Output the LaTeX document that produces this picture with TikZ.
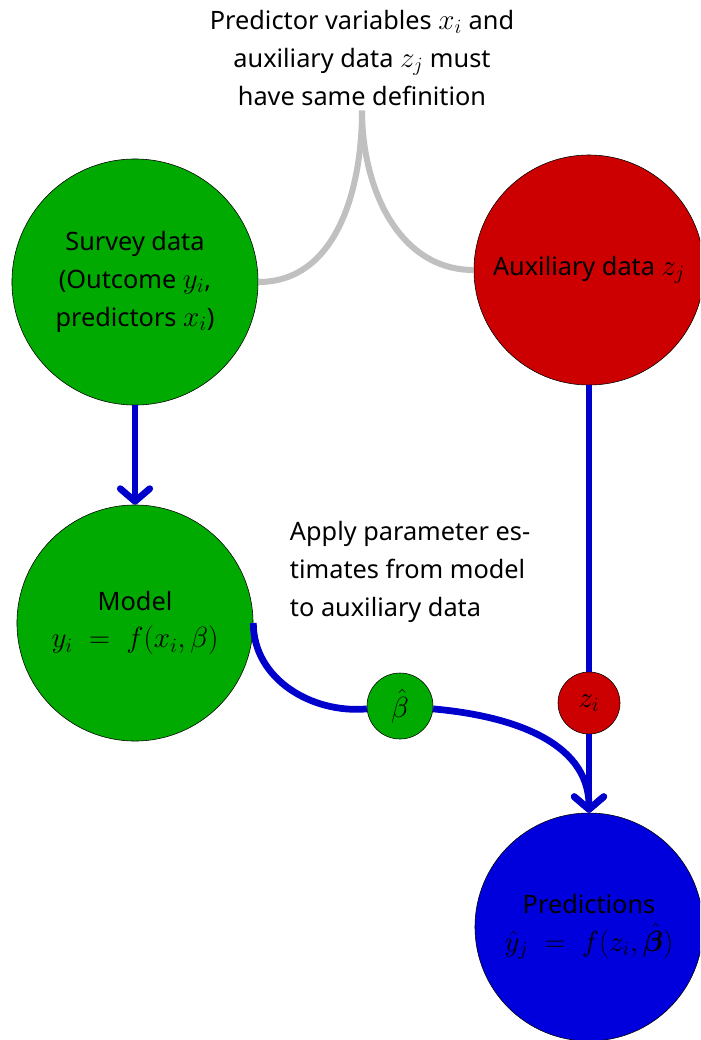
\documentclass[tikz,border=0pt]{standalone}
\usepackage{fontspec}
\setmainfont{Noto Sans}
\usepackage{bm}
\DeclareMathSizes{18}{21}{15}{12}
\usetikzlibrary{arrows.meta}
\definecolor{surveygreen}{RGB}{0,170,0}
\definecolor{auxred}{RGB}{204,0,0}
\definecolor{flowblue}{RGB}{0,0,204}
\definecolor{predblue}{RGB}{0,0,221}
\definecolor{linkgray}{RGB}{192,192,192}
\begin{document}
\begin{tikzpicture}[x=0.025cm, y=-0.025cm,
    every node/.style={font=\fontsize{18}{27}\selectfont},
    blob/.style={circle, draw=black, thin, align=center, inner sep=0pt},
    flow/.style={draw=flowblue, line width=4.8pt},
    tip/.style={-{Straight Barb[round, length=9pt, width=21pt]}},
    link/.style={draw=linkgray, line width=4.3pt}]
  \clip (0,0) rectangle (700,1040);
  % Data sources
  \node[blob, fill=surveygreen, minimum size=6.15cm] (survey) at (135,282)
    {Survey data\\(Outcome $y_i$,\\predictors $x_i$)};
  \node[blob, fill=auxred, minimum size=5.75cm] (aux) at (589,270)
    {Auxiliary data $z_j$};
  % Model and predictions
  \node[blob, fill=surveygreen, minimum size=5.9cm] (model) at (135,623)
    {Model\\$y_i \;=\; f(x_i, \beta)$};
  \node[blob, fill=predblue, minimum size=5.7cm] (pred) at (589,927)
    {Predictions\\$\hat{y}_j \;=\; f(z_i, \hat{\bm{\beta}})$};
  % Notes
  \node[align=center] (note) at (362,58)
    {Predictor variables $x_i$ and\\auxiliary data $z_j$ must\\have same definition};
  \node[align=left, anchor=west] (apply) at (285,572)
    {Apply parameter es-\\timates from model\\to auxiliary data};
  % Same definition
  \draw[link] (survey.east) to[out=0, in=-90] (note.south);
  \draw[link] (aux.west) to[out=180, in=-90] (note.south);
  % Flows
  \draw[flow, tip] (survey) -- (model);
  \node[blob, fill=surveygreen, minimum size=1.65cm] (beta) at (400,706) {$\hat{\beta}$};
  \node[blob, fill=auxred, minimum size=1.55cm] (zi) at (589,703) {$z_i$};
  \draw[flow] (aux) -- (zi);
  \draw[flow, tip] (zi) -- (pred);
  \draw[flow] (model.east) to[out=-90, in=185] (beta);
  \draw[flow, tip] (beta) to[out=-5, in=90] (pred.north);
\end{tikzpicture}
\end{document}
